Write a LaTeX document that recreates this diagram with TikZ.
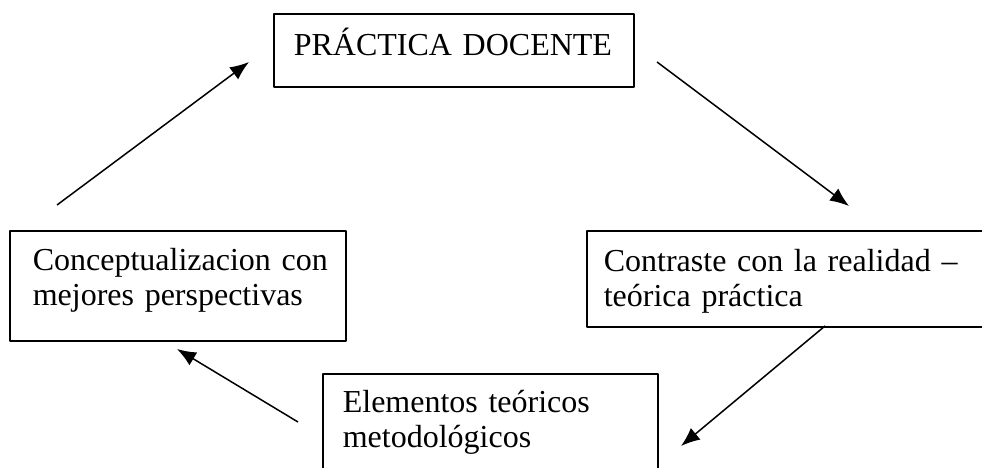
\documentclass[tikz,border=0pt]{standalone}
\usepackage{fontspec}
\setmainfont{Liberation Serif}
\usetikzlibrary{arrows.meta}
\tikzset{caja/.style={draw=black,rectangle,anchor=north west,line width=1.6pt,align=left,inner ysep=0pt,font=\fontsize{32}{35}\selectfont}}
\begin{document}
\begin{tikzpicture}[x=1pt,y=-1pt,>={Latex[length=19pt,width=15pt]},line join=bevel,]
    \clip (0,0) rectangle (982,468);
    %%
    \node (practica) at (273,13) [caja,inner xsep=20pt,text width=320pt,text height=42pt,text depth=31pt] {\mbox{PRÁCTICA DOCENTE}};
    \node (concep) at (9,230) [caja,inner xsep=23pt,text width=290pt,text height=40pt,text depth=70pt] {\mbox{Conceptualizacion con}\\\mbox{mejores perspectivas}};
    \node (contraste) at (586,230) [caja,inner xsep=17pt,text width=375pt,text height=41pt,text depth=55pt] {\mbox{Contraste con la realidad --}\\\mbox{teórica práctica}};
    \node (elementos) at (322,373) [caja,inner xsep=20pt,text width=295pt,text height=39pt,text depth=75pt] {\mbox{Elementos teóricos}\\\mbox{metodológicos}};
    \coordinate (a1) at (57,205);
    \coordinate (a2) at (249,62);
    \coordinate (b1) at (657,62);
    \coordinate (b2) at (849,206);
    \coordinate (c1) at (825,326);
    \coordinate (c2) at (681,446);
    \coordinate (d1) at (298,422);
    \coordinate (d2) at (177,349);
    \draw [->,line width=1.5pt] (a1) -- (a2);
    \draw [->,line width=1.5pt] (b1) -- (b2);
    \draw [->,line width=1.5pt] (c1) -- (c2);
    \draw [->,line width=1.5pt] (d1) -- (d2);
    %
\end{tikzpicture}
\end{document}
